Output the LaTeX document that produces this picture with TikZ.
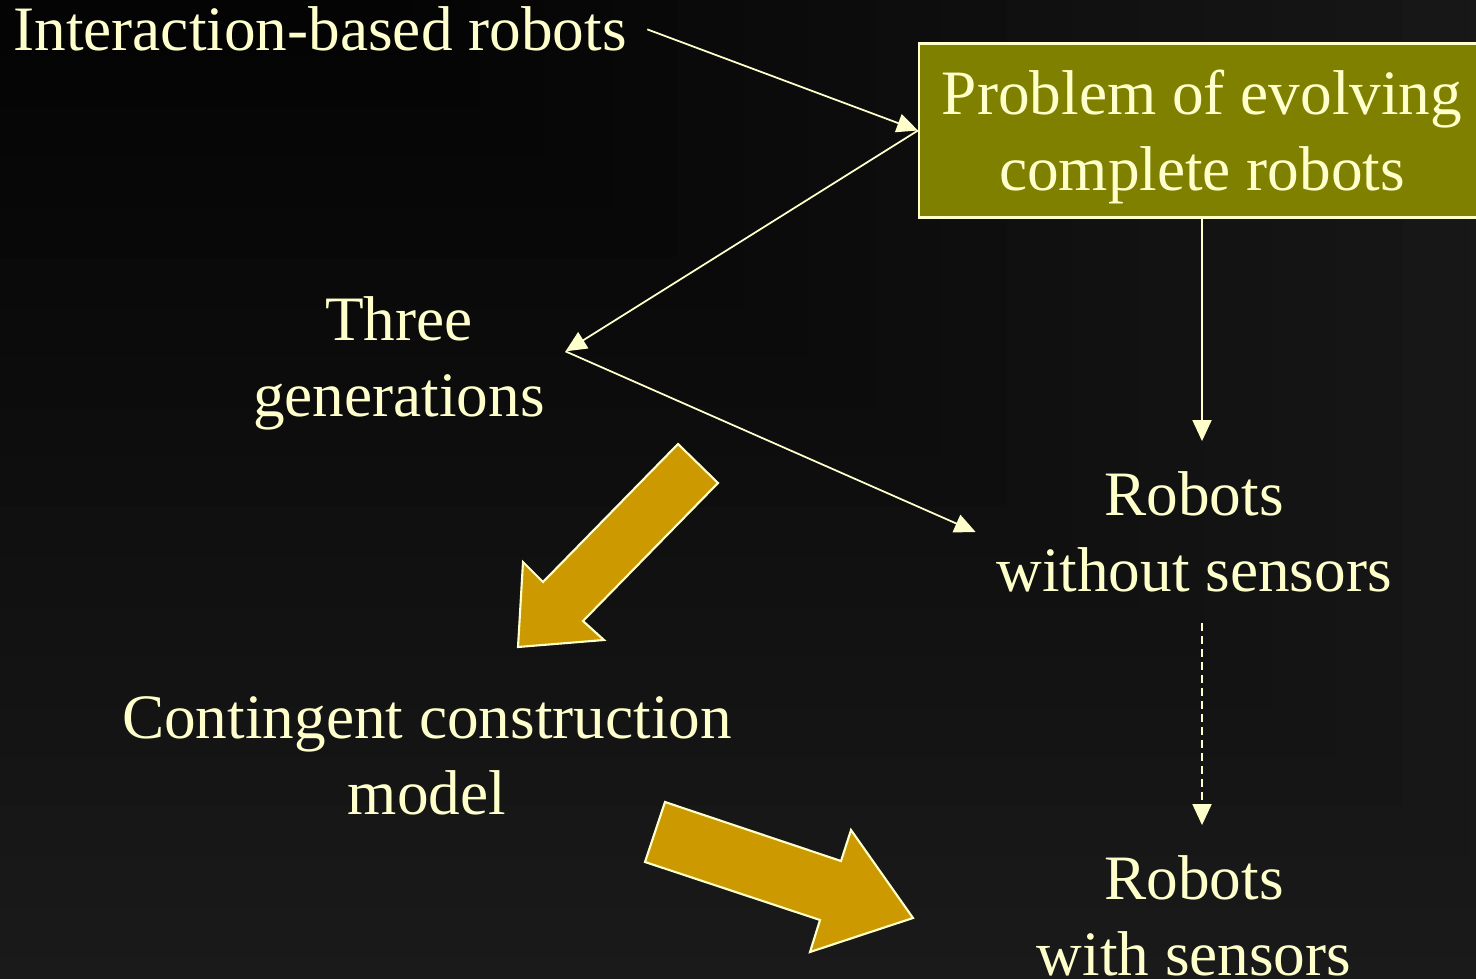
\documentclass[tikz,border=0pt]{standalone}
\usepackage{fontspec}
\setmainfont{Liberation Serif}
\usepackage{xcolor}
\usetikzlibrary{positioning, calc, arrows.meta}

\definecolor{cream}{HTML}{FFFFCC}
\definecolor{boxolive}{HTML}{808000}
\definecolor{arrowgold}{HTML}{CC9900}
\definecolor{slidebg}{HTML}{1A1A1A}

\begin{document}
\begin{tikzpicture}[
    >={Triangle[length=0.21cm,width=0.19cm]},
    txt/.style={text=cream, font=\fontsize{18}{21.6}\selectfont, align=center,
                inner xsep=0.2cm, inner ysep=0.3cm},
    probbox/.style={txt, fill=boxolive, draw=cream, line width=0.6pt, inner ysep=0.15cm,
                    minimum width=5.66cm, minimum height=1.74cm, text depth=-0.08cm},
    link/.style={->, draw=cream, line width=0.5pt},
    bigarrow/.style={fill=arrowgold, draw=cream, line width=0.6pt, line join=miter}
]

    % --- Slide frame and stepped dark background ---
    \useasboundingbox (0,0) rectangle (14.76,9.78);
    \clip (0,0) rectangle (14.76,9.78);
    \fill[slidebg] (0,0) rectangle (14.76,9.78);
    \foreach \j in {19,...,0} {
        \pgfmathsetmacro{\lev}{1.5+0.46*\j}
        \fill[white!\lev!black] (0,9.78) rectangle ({4.13+0.66*\j},{9.21-0.5*\j});
    }

    % --- Text blocks ---
    \node[txt, anchor=base] (inter) at (3.20, 9.27) {Interaction-based robots};
    \node[probbox] (prob) at (12.02, 8.475) {Problem of evolving\\complete robots};
    \node[txt] (gen) at (3.99, 6.15) {Three\\generations};
    \node[txt] (wo) at (11.94, 4.46) {Robots\\without sensors};
    \node[txt] (cont) at (4.27, 2.22) {Contingent construction\\model};
    \node[txt] (with) at (11.94, 0.62) {Robots\\with sensors};

    % --- Thin connectors ---
    \draw[link] (inter.east) -- (prob.west);
    \draw[link] (prob.west) -- (gen.4);
    \draw[link] (gen.4) -- (wo.west);
    \draw[link] (prob.south) -- (prob.south |- wo.north);
    \draw[link, dash pattern=on 2.3pt off 1.4pt] (prob.south |- wo.south) -- (prob.south |- with.north);

    % --- Block arrows ---
    \draw[bigarrow] (6.78,5.34) -- (7.18,4.95) -- (5.83,3.57) -- (6.04,3.38)
        -- (5.18,3.31) -- (5.23,4.16) -- (5.43,3.96) -- cycle;
    \draw[bigarrow] (6.65,1.76) -- (8.41,1.17) -- (8.51,1.48) -- (9.13,0.60)
        -- (8.10,0.26) -- (8.20,0.58) -- (6.45,1.16) -- cycle;

\end{tikzpicture}
\end{document}
